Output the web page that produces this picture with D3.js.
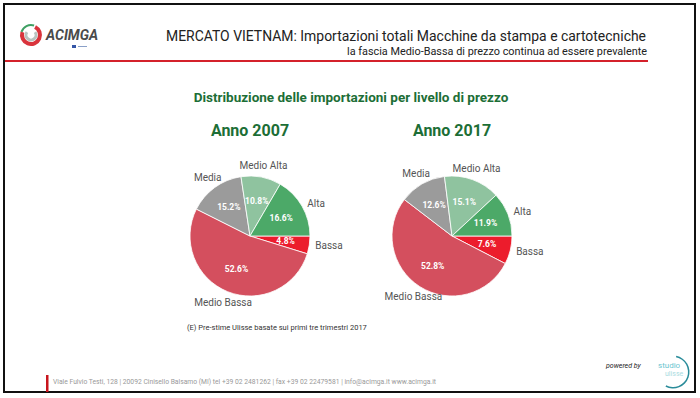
<!DOCTYPE html>
<html lang="it">

<head>
    <meta charset="UTF-8">
    <title>Mercato Vietnam</title>
    <style>
        body {
            margin: 0;
            padding: 0;
            overflow: hidden;
            background: #fff;
        }

        text {
            font-family: Roboto, "Noto Sans", sans-serif;
        }
    </style>
</head>

<body>
<svg id="chart" width="700" height="398"></svg>
<script src="https://cdn.jsdelivr.net/npm/d3@7"></script>
<script>
    // price bands, clockwise from 3 o'clock
    const bands = ["Bassa", "Medio Bassa", "Media", "Medio Alta", "Alta"];
    const values2007 = [4.8, 52.6, 15.2, 10.8, 16.6];
    const values2017 = [7.6, 52.8, 12.6, 15.1, 11.9];
    const years = ["Anno 2007", "Anno 2017"];
    const bandColors = ["#ec1c2c", "#d44f5e", "#9b9b9b", "#8fc39f", "#4ca968"];

    const W = 700, H = 398;
    const svg = d3.select("#chart");
    const green = "#1c6e36";

    // frame
    svg.append("rect")
        .attr("x", 4).attr("y", 4)
        .attr("width", W - 9).attr("height", H - 10)
        .attr("fill", "#fff")
        .attr("stroke", "#111")
        .attr("stroke-width", 2);

    // header
    const logo = svg.append("g").attr("transform", "translate(31,35)");
    const swirl = d3.arc();
    logo.append("path")
        .attr("d", swirl({innerRadius: 7, outerRadius: 11, startAngle: Math.PI * 0.15, endAngle: Math.PI * 1.6}))
        .attr("fill", "#d9343c");
    logo.append("path")
        .attr("d", swirl({innerRadius: 3.5, outerRadius: 6.5, startAngle: Math.PI * 0.3, endAngle: Math.PI * 1.7}))
        .attr("fill", "#b9c4c0");
    logo.append("path")
        .attr("d", swirl({innerRadius: 9, outerRadius: 11, startAngle: Math.PI * 1.6, endAngle: Math.PI * 2.1}))
        .attr("fill", "#3fa063");
    svg.append("text")
        .attr("x", 46).attr("y", 40)
        .attr("font-size", 14)
        .attr("font-weight", "bold")
        .attr("font-style", "italic")
        .attr("fill", "#4a4a4a")
        .text("ACIMGA");
    svg.append("rect")
        .attr("x", 72).attr("y", 45).attr("width", 4).attr("height", 3)
        .attr("fill", "#3556a6");
    svg.append("rect")
        .attr("x", 78).attr("y", 46).attr("width", 9).attr("height", 1)
        .attr("fill", "#8aa0c8");

    svg.append("text")
        .attr("x", 166).attr("y", 41)
        .attr("font-size", 15)
        .attr("fill", "#222")
        .attr("textLength", 480)
        .attr("lengthAdjust", "spacingAndGlyphs")
        .text("MERCATO VIETNAM: Importazioni totali Macchine da stampa e cartotecniche");
    svg.append("text")
        .attr("x", 647).attr("y", 55)
        .attr("text-anchor", "end")
        .attr("font-size", 11.5)
        .attr("fill", "#222")
        .attr("textLength", 300)
        .attr("lengthAdjust", "spacingAndGlyphs")
        .text("la fascia Medio-Bassa di prezzo continua ad essere prevalente");
    svg.append("line")
        .attr("x1", 5).attr("x2", 648)
        .attr("y1", 61).attr("y2", 61)
        .attr("stroke", "#d4212b")
        .attr("stroke-width", 2);

    // chart titles
    svg.append("text")
        .attr("x", 351).attr("y", 102)
        .attr("text-anchor", "middle")
        .attr("font-size", 13.5)
        .attr("font-weight", "bold")
        .attr("fill", green)
        .text("Distribuzione delle importazioni per livello di prezzo");

    const pie = d3.pie()
        .sort(null)
        .value(d => d.value)
        .startAngle(Math.PI / 2)
        .endAngle(Math.PI / 2 + 2 * Math.PI);

    const r = 60;
    const arc = d3.arc().innerRadius(0).outerRadius(r);
    const inner = d3.arc().innerRadius(0).outerRadius(72);
    const color = d3.scaleOrdinal(bands, bandColors);
    const yearX = d3.scalePoint(years, [250, 452]);

    [values2007, values2017].forEach((vals, i) => {
        const cx = yearX(years[i]), cy = 236;
        const data = bands.map((b, j) => ({band: b, value: vals[j]}));

        svg.append("text")
            .attr("x", cx).attr("y", 136)
            .attr("text-anchor", "middle")
            .attr("font-size", 16)
            .attr("font-weight", "bold")
            .attr("fill", green)
            .text(years[i]);

        const g = svg.append("g").attr("transform", `translate(${cx},${cy})`);
        const arcs = pie(data);

        g.selectAll("path")
            .data(arcs)
            .join("path")
            .attr("d", arc)
            .attr("fill", d => color(d.data.band))
            .attr("stroke", "#fff")
            .attr("stroke-width", 0.8);

        g.selectAll(".pct")
            .data(arcs)
            .join("text")
            .attr("class", "pct")
            .attr("transform", d => `translate(${inner.centroid(d)})`)
            .attr("text-anchor", "middle")
            .attr("dy", "0.35em")
            .attr("font-size", 8.5)
            .attr("font-weight", "bold")
            .attr("fill", "#fff")
            .text(d => d.data.value.toFixed(1) + "%");

        g.selectAll(".lbl")
            .data(arcs)
            .join("text")
            .attr("class", "lbl")
            .each(function (d) {
                const a = (d.startAngle + d.endAngle) / 2;
                const side = Math.sin(a) > 0.6;
                const rr = side ? 66 : 72;
                d3.select(this)
                    .attr("x", Math.sin(a) * rr)
                    .attr("y", -Math.cos(a) * rr)
                    .attr("text-anchor", side ? "start" : "middle");
            })
            .attr("dy", "0.35em")
            .attr("font-size", 10)
            .attr("fill", "#555")
            .text(d => d.data.band);
    });

    // note
    svg.append("text")
        .attr("x", 187).attr("y", 330)
        .attr("font-size", 7.5)
        .attr("fill", "#333")
        .text("(E) Pre-stime Ulisse basate sui primi tre trimestri 2017");

    // footer
    svg.append("rect")
        .attr("x", 46).attr("y", 375).attr("width", 2.5).attr("height", 17)
        .attr("fill", "#c8151d");
    svg.append("text")
        .attr("x", 53).attr("y", 384)
        .attr("font-size", 7)
        .attr("fill", "#999")
        .attr("textLength", 383)
        .attr("lengthAdjust", "spacingAndGlyphs")
        .text("Viale Fulvio Testi, 128   |   20092 Cinisello Balsamo (MI) tel +39 02 2481262   |   fax +39 02 22479581   |   info@acimga.it  www.acimga.it");

    svg.append("text")
        .attr("x", 606).attr("y", 368)
        .attr("font-size", 7)
        .attr("font-style", "italic")
        .attr("fill", "#222")
        .text("powered by");
    const studio = svg.append("g").attr("transform", "translate(673,372)");
    studio.append("path")
        .attr("d", d3.arc()({innerRadius: 15, outerRadius: 16.5, startAngle: 0.2, endAngle: Math.PI * 1.15}))
        .attr("fill", "#2a8c9a");
    studio.append("text")
        .attr("x", -15).attr("y", -4)
        .attr("font-size", 8)
        .attr("font-family", "DejaVu Sans Mono")
        .attr("fill", "#6cc5cf")
        .text("studio");
    studio.append("text")
        .attr("x", -8).attr("y", 4)
        .attr("font-size", 7)
        .attr("fill", "#a9dbe0")
        .text("ulisse");
</script>
</body>

</html>
